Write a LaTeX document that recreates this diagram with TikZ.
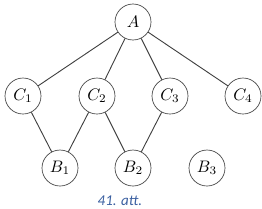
\documentclass[tikz,border=0pt]{standalone}
\usepackage{amsmath,amssymb}
\usepackage{fontspec}
\usepackage{xcolor}
\newfontfamily\captionfont{Carlito}
\definecolor{captionblue}{HTML}{3A5FA0}
\usepackage{tikz}

\begin{document}
\begin{tikzpicture}[
  x=0.6pt, y=-0.6pt,
  vertex/.style={draw=black!75, circle, minimum size=21.6pt, inner sep=0pt,
                 font=\normalsize},
  edge/.style={draw=black!75, line width=0.55pt},
]
\useasboundingbox (0,0) rectangle (262,208);
\node[vertex] (A)  at (133,22) {$A$};
\node[vertex] (C1) at (23,96)  {$C_1$};
\node[vertex] (C2) at (97,96)  {$C_2$};
\node[vertex] (C3) at (170,96) {$C_3$};
\node[vertex] (C4) at (243,96) {$C_4$};
\node[vertex] (B1) at (60,168)  {$B_1$};
\node[vertex] (B2) at (133,168) {$B_2$};
\node[vertex] (B3) at (207,168) {$B_3$};
% edges
\foreach \c in {C1,C2,C3,C4}
  \draw[edge] (A) -- (\c);
\draw[edge] (C1) -- (B1);
\draw[edge] (C2) -- (B1);
\draw[edge] (C2) -- (B2);
\draw[edge] (C3) -- (B2);
\node[inner sep=0pt, text=captionblue, font=\captionfont\itshape\fontsize{9}{10}\selectfont]
  (cap) at (120,201) {41. att.};
\end{tikzpicture}
\end{document}
